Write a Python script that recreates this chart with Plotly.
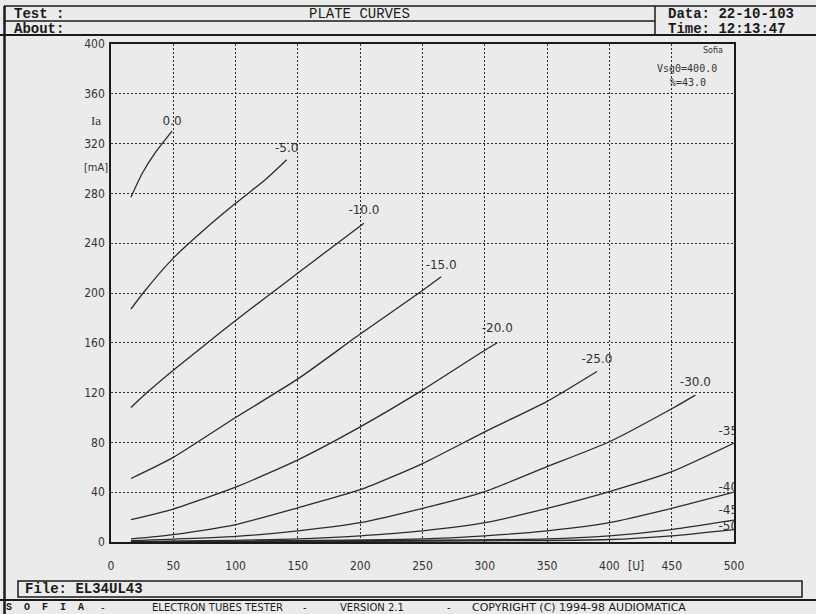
import plotly.graph_objects as go

# grid voltages of the family (V)
vg = [0, -5, -10, -15, -20, -25, -30, -35, -40, -45, -50]

# plate voltage (V) / plate current (mA)
vp_0 = [16, 25, 35, 49]
ia_0 = [277, 296, 312, 330]
vp_5 = [16, 25, 50, 75, 100, 125, 141]
ia_5 = [187, 199, 228, 251, 272, 292, 307]
vp_10 = [16, 30, 50, 75, 100, 125, 150, 175, 203]
ia_10 = [108, 121, 138, 158, 178, 197, 216, 235, 256]
vp_15 = [16, 50, 100, 150, 200, 250, 265]
ia_15 = [51, 68, 100, 131, 167, 202, 213]
vp_20 = [16, 50, 100, 150, 200, 250, 300, 310]
ia_20 = [18, 26.5, 44, 66, 92.5, 122, 154, 160]
vp_25 = [16, 50, 100, 150, 200, 250, 300, 350, 390]
ia_25 = [2.5, 6, 14, 27.5, 42, 63, 88.5, 113, 137]
vp_30 = [16, 100, 150, 200, 250, 300, 350, 400, 450, 469]
ia_30 = [1, 4.5, 9, 15.5, 27, 40.5, 60.5, 80.5, 107, 118]
vp_35 = [16, 150, 200, 250, 300, 350, 400, 450, 500]
ia_35 = [0.3, 2.5, 5, 9, 15.5, 27, 40.5, 56.5, 79.5]
vp_40 = [16, 250, 300, 350, 400, 450, 500]
ia_40 = [0.2, 2.5, 5, 9, 15.5, 27, 40]
vp_45 = [16, 350, 400, 450, 500]
ia_45 = [0.1, 2.5, 5, 10, 17.5]
vp_50 = [16, 400, 450, 500]
ia_50 = [0, 2, 5, 10]

x_ticks = list(range(0, 501, 50))
y_ticks = list(range(0, 401, 40))

curves = [(vp_0, ia_0), (vp_5, ia_5), (vp_10, ia_10), (vp_15, ia_15),
          (vp_20, ia_20), (vp_25, ia_25), (vp_30, ia_30), (vp_35, ia_35),
          (vp_40, ia_40), (vp_45, ia_45), (vp_50, ia_50)]

# label lift above curve end (mA), styling only
label_dy = [7, 8.5, 10, 8.7, 10.8, 9, 9.5, 9, 3.4, 7.5, 2]

W, H = 816, 614
L, R, T, B = 111, 734, 44, 542


def px(x):
    return (x - L) / (R - L)


def py(y):
    return (B - y) / (B - T)


BG = '#ebebeb'
INK = '#1a1a1a'
MONO = 'Liberation Mono, DejaVu Sans Mono, monospace'
NARROW = 'Liberation Sans Narrow, DejaVu Sans Condensed, Arial Narrow, sans-serif'

fig = go.Figure()

for v, i in curves:
    fig.add_trace(go.Scatter(x=v, y=i, mode='lines',
                             line=dict(color='#2b2b2b', width=1.3, shape='spline', smoothing=0.6),
                             cliponaxis=True, showlegend=False, hoverinfo='skip'))

fig.add_trace(go.Scatter(x=[c[0][-1] for c in curves],
                         y=[c[1][-1] + d for c, d in zip(curves, label_dy)],
                         text=[f'{g:.1f}' for g in vg],
                         mode='text', textposition='middle center',
                         textfont=dict(family='DejaVu Sans', size=12, color='#333'),
                         cliponaxis=True, showlegend=False, hoverinfo='skip'))

axis_common = dict(showgrid=True, gridcolor='#2a2a2a', griddash='2px,2px', gridwidth=1,
                   showline=True, linecolor=INK, linewidth=1.5, mirror=True,
                   zeroline=False, ticks='',
                   tickfont=dict(family=NARROW, size=12, color='#333'))

fig.update_xaxes(range=[0, 500], tickvals=x_ticks, ticklabelstandoff=12, **axis_common)
fig.update_yaxes(range=[0, 400], tickvals=y_ticks, ticklabelstandoff=2, **axis_common)

shapes = []


def hline(y, x0, x1, w=1.5):
    shapes.append(dict(type='line', xref='paper', yref='paper',
                       x0=px(x0), x1=px(x1), y0=py(y), y1=py(y),
                       line=dict(color=INK, width=w)))


def vline(x, y0, y1, w=1.5):
    shapes.append(dict(type='line', xref='paper', yref='paper',
                       x0=px(x), x1=px(x), y0=py(y0), y1=py(y1),
                       line=dict(color=INK, width=w)))


# header boxes
hline(6, 4, 816)
hline(21, 4, 655)
hline(35, 0, 816, 2)
vline(655, 6, 35)
vline(4.5, 6, 614, 2.5)
# file box
shapes.append(dict(type='rect', xref='paper', yref='paper',
                   x0=px(18), x1=px(802), y0=py(597), y1=py(581),
                   line=dict(color=INK, width=1.5)))
# footer line
hline(600, 0, 816, 2)

annots = []


def txt(x, y, s, size=13, family=MONO, bold=False, anchor='left', color=INK):
    annots.append(dict(xref='paper', yref='paper', x=px(x), y=py(y),
                       text=f'<b>{s}</b>' if bold else s, showarrow=False,
                       xanchor=anchor, yanchor='middle', borderpad=0,
                       font=dict(family=family, size=size, color=color)))


txt(13, 14, 'Test :', size=14, bold=True)
txt(359, 14, 'PLATE CURVES', size=14, anchor='center')
txt(13, 28.5, 'About:', size=14, bold=True)
txt(667, 14, 'Data: 22-10-103', size=14, bold=True)
txt(667, 28.5, 'Time: 12:13:47', size=14, bold=True)
txt(24, 589, 'File: EL34UL43', size=14, bold=True)

fy = 607
txt(5, fy, 'S&nbsp;&nbsp;O&nbsp;&nbsp;F&nbsp;&nbsp;I&nbsp;&nbsp;A', size=10, bold=True)
txt(100, fy, '-', size=10, family='DejaVu Sans')
txt(151, fy, 'ELECTRON TUBES TESTER', size=10, family='DejaVu Sans')
txt(302, fy, '-', size=10, family='DejaVu Sans')
txt(339, fy, 'VERSION 2.1', size=10, family='DejaVu Sans')
txt(446, fy, '-', size=10, family='DejaVu Sans')
txt(471, fy, 'COPYRIGHT (C) 1994-98 AUDIOMATICA', size=11, family='DejaVu Sans')

# axis captions
txt(95.5, 120, 'Ia', size=13, family='Liberation Serif', anchor='center', color='#333')
txt(109, 167, '[mA]', size=11, family=NARROW, anchor='right', color='#333')
annots.append(dict(xref='x', yref='paper', x=421, y=py(566), text='[U]', showarrow=False,
                   xanchor='center', yanchor='middle',
                   font=dict(family=NARROW, size=12, color='#333')))

# inset notes
annots.append(dict(xref='x', yref='y', x=483, y=395, text='Sofia', showarrow=False,
                   xanchor='center', yanchor='middle',
                   font=dict(family='DejaVu Sans', size=8, color='#333')))
annots.append(dict(xref='x', yref='y', x=462, y=380, text='Vsg0=400.0', showarrow=False,
                   xanchor='center', yanchor='middle',
                   font=dict(family='DejaVu Sans Mono', size=10, color='#333')))
annots.append(dict(xref='x', yref='y', x=463, y=369, text='%=43.0', showarrow=False,
                   xanchor='center', yanchor='middle',
                   font=dict(family='DejaVu Sans Mono', size=10, color='#333')))

fig.update_layout(width=W, height=H, autosize=False,
                  margin=dict(l=L, r=W - R, t=T, b=H - B, pad=0),
                  paper_bgcolor=BG, plot_bgcolor=BG,
                  shapes=shapes, annotations=annots, showlegend=False)

# drop the default page margin so the figure sits at the window's corner
fig.write_html('out.html', config={'displayModeBar': False},
               post_script="document.body.style.margin='0';document.body.style.background='#ebebeb';")
